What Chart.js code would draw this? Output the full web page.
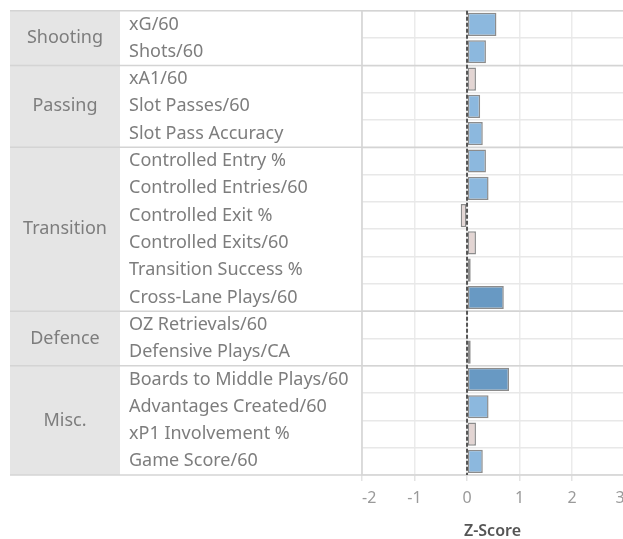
<!DOCTYPE html>
<html>
<head>
  <title>Player Z-Score Profile</title>
  <script src="https://cdn.jsdelivr.net/npm/chart.js"></script>
  <style>
    html, body { margin: 0; padding: 0; background: #fff; overflow: hidden; }
    canvas { display: block; }
  </style>
</head>
<body>
  <canvas id="zChart" width="623" height="539"></canvas>

  <script>
    const groups = ['Shooting', 'Passing', 'Transition', 'Defence', 'Misc.'];
    const groupSizes = [2, 3, 6, 2, 4];
    const metrics = [
      'xG/60', 'Shots/60',
      'xA1/60', 'Slot Passes/60', 'Slot Pass Accuracy',
      'Controlled Entry %', 'Controlled Entries/60', 'Controlled Exit %',
      'Controlled Exits/60', 'Transition Success %', 'Cross-Lane Plays/60',
      'OZ Retrievals/60', 'Defensive Plays/CA',
      'Boards to Middle Plays/60', 'Advantages Created/60', 'xP1 Involvement %', 'Game Score/60'
    ];
    const zScores = [
      0.56, 0.36,
      0.17, 0.25, 0.30,
      0.36, 0.41, -0.12, 0.17, 0.07, 0.70,
      0.01, 0.07,
      0.80, 0.41, 0.17, 0.30
    ];
    const xTicks = [-2, -1, 0, 1, 2, 3];

    const FONT = "'Noto Sans', sans-serif";

    // colour band by z-score
    function barColor(v) {
      if (v >= 0.6) return '#6899c3';
      if (v >= 0.22) return '#8cb8de';
      return '#e3d5d3';
    }

    // group column, group separators and the dashed zero line
    const tablePlugin = {
      id: 'tablePlugin',
      beforeDraw(chart) {
        const { ctx, chartArea } = chart;
        ctx.save();
        ctx.fillStyle = '#e5e5e5';
        ctx.fillRect(10, chartArea.top, 110, chartArea.bottom - chartArea.top);
        ctx.restore();
      },
      afterDatasetsDraw(chart) {
        const { ctx, chartArea, scales: { x, y } } = chart;
        const half = (y.getPixelForValue(1) - y.getPixelForValue(0)) / 2;

        ctx.save();
        // group separators
        ctx.strokeStyle = '#d4d4d4';
        ctx.lineWidth = 1.5;
        let start = 0;
        const bounds = [chartArea.top];
        groupSizes.forEach(n => {
          start += n;
          bounds.push(y.getPixelForValue(start - 1) + half);
        });
        bounds.forEach(b => {
          ctx.beginPath();
          ctx.moveTo(10, b);
          ctx.lineTo(chartArea.right, b);
          ctx.stroke();
        });
        // table right border
        ctx.beginPath();
        ctx.moveTo(chartArea.left, chartArea.top);
        ctx.lineTo(chartArea.left, chartArea.bottom);
        ctx.stroke();

        // group labels
        ctx.fillStyle = '#7d7d7d';
        ctx.font = '18px ' + FONT;
        ctx.textAlign = 'center';
        ctx.textBaseline = 'middle';
        start = 0;
        groups.forEach((g, i) => {
          const a = y.getPixelForValue(start);
          const b = y.getPixelForValue(start + groupSizes[i] - 1);
          ctx.fillText(g, 65, (a + b) / 2);
          start += groupSizes[i];
        });

        // dashed zero line
        const zx = x.getPixelForValue(0);
        ctx.strokeStyle = '#555';
        ctx.lineWidth = 2;
        ctx.setLineDash([4, 2]);
        ctx.beginPath();
        ctx.moveTo(zx, chartArea.top);
        ctx.lineTo(zx, chartArea.bottom);
        ctx.stroke();
        ctx.restore();
      }
    };

    const ctx = document.getElementById('zChart').getContext('2d');
    const zChart = new Chart(ctx, {
      type: 'bar',
      data: {
        labels: metrics,
        datasets: [{
          data: zScores,
          backgroundColor: zScores.map(barColor),
          borderColor: '#8c8c8c',
          borderWidth: 1.5,
          borderSkipped: false,
          barPercentage: 0.85,
          categoryPercentage: 1
        }]
      },
      options: {
        indexAxis: 'y',
        responsive: false,
        animation: false,
        layout: { padding: { left: 129, top: 10, right: 0, bottom: 0 } },
        plugins: { legend: { display: false }, tooltip: { enabled: false } },
        scales: {
          x: {
            min: -2,
            max: 2.97,
            afterBuildTicks: s => { s.ticks = xTicks.map(v => ({ value: v })); },
            afterFit: s => { s.paddingRight = 0; s.paddingLeft = 0; s.height = 64; },
            grid: { color: '#ebebeb', lineWidth: 1.5, tickLength: 6, tickColor: '#e3e3e3' },
            border: { display: false },
            ticks: { align: 'inner', color: '#9a9a9a', font: { family: FONT, size: 16 }, padding: 8 },
            title: {
              display: true, text: 'Z-Score', color: '#555',
              font: { family: FONT, size: 16, weight: '600', lineHeight: 1 },
              padding: { top: 15, bottom: 0 }
            }
          },
          y: {
            afterFit: s => { s.width = 233; },
            grid: { color: '#e8e8e8', lineWidth: 1.5, drawTicks: false },
            border: { display: false },
            ticks: { crossAlign: 'far', color: '#7d7d7d', font: { family: FONT, size: 18 }, padding: 0 }
          }
        }
      },
      plugins: [tablePlugin]
    });
  </script>
</body>
</html>
